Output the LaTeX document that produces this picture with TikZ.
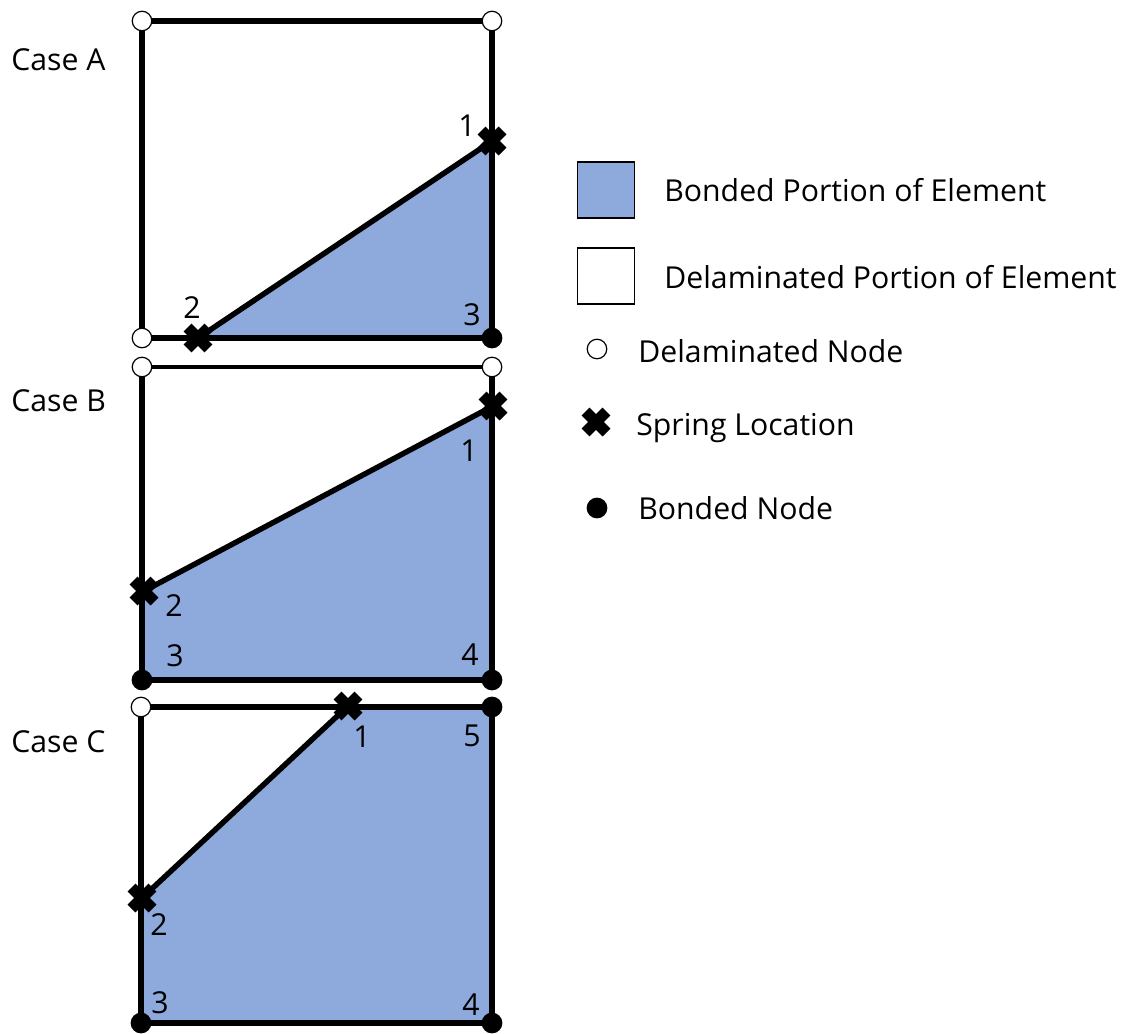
\documentclass[tikz,border=0pt]{standalone}
\usepackage{fontspec}
\setmainfont{Open Sans}
\usepackage{xcolor}
\usetikzlibrary{shapes.misc,backgrounds}
\definecolor{bondblue}{HTML}{8EA9DB}

\begin{document}
\begin{tikzpicture}[
        x=0.02cm, y=-0.02cm,
        delam/.style={circle, draw, fill=white, inner sep=0pt, outer sep=0pt, minimum size=0.39cm, line width=0.7pt},
        bonded/.style={circle, draw, fill=black, inner sep=0pt, outer sep=0pt, minimum size=0.39cm, line width=0.7pt},
        spring/.style={cross out, draw, inner sep=0pt, outer sep=0pt, minimum size=0.42cm, line width=6.4pt},
        swatch/.style={rectangle, draw, inner sep=0pt, minimum width=1.14cm, minimum height=1.12cm, line width=0.9pt},
        label/.style={font=\fontsize{17.2}{20}\selectfont, inner sep=0pt},
        legendtext/.style={label, anchor=west},
        line/.style={draw, line width=3.1pt},
        thinline/.style={draw, line width=2.4pt}
    ]
    \useasboundingbox (0,0) rectangle (1133,1034);

    % Case A
    \node [label, anchor=west] (casea) at (11,60) {Case A};
    \node [delam] (atl) at (142,21) {};
    \node [delam] (atr) at (492,21) {};
    \node [delam] (abl) at (142,338) {};
    \node [bonded] (abr) at (492,338) {};
    \node [spring] (aone) at (492,141) {};
    \node [spring] (atwo) at (198,338) {};
    \node [label] (alabone) at (467,126) {1};
    \node [label] (alabtwo) at (192,308) {2};
    \node [label] (alabthree) at (472,315) {3};

    % Case B
    \node [label, anchor=west] (caseb) at (11,401) {Case B};
    \node [delam] (btl) at (142,367) {};
    \node [delam] (btr) at (492,367) {};
    \node [bonded] (bbl) at (142,680) {};
    \node [bonded] (bbr) at (492,680) {};
    \node [spring] (bone) at (493,406) {};
    \node [spring] (btwo) at (144,591) {};
    \node [label] (blabone) at (469,451) {1};
    \node [label] (blabtwo) at (174,606) {2};
    \node [label] (blabthree) at (175,656) {3};
    \node [label] (blabfour) at (470,655) {4};

    % Case C
    \node [label, anchor=west] (casec) at (11,742) {Case C};
    \node [delam] (ctl) at (141,707) {};
    \node [bonded] (ctr) at (492,707) {};
    \node [bonded] (cbl) at (141,1023) {};
    \node [bonded] (cbr) at (492,1023) {};
    \node [spring] (cone) at (348,706) {};
    \node [spring] (ctwo) at (142,898) {};
    \node [label] (clabone) at (362,737) {1};
    \node [label] (clabtwo) at (159,925) {2};
    \node [label] (clabthree) at (160,1003) {3};
    \node [label] (clabfour) at (471,1005) {4};
    \node [label] (clabfive) at (472,736) {5};

    % Legend
    \node [swatch, fill=bondblue] (legbond) at (606,190) {};
    \node [swatch, fill=white] (legdelam) at (606,276) {};
    \node [delam] (legopen) at (597,349) {};
    \node [spring] (legspring) at (596,422) {};
    \node [bonded] (legdot) at (597,508) {};
    \node [legendtext] (txtbond) at (664,190) {Bonded Portion of Element};
    \node [legendtext] (txtdelam) at (664,277) {Delaminated Portion of Element};
    \node [legendtext] (txtopen) at (638,351) {Delaminated Node};
    \node [legendtext] (txtspring) at (636,428) {Spring Location};
    \node [legendtext] (txtdot) at (638,508) {Bonded Node};

    % Bonded regions and element edges
    \begin{scope}[on background layer]
        \fill [bondblue] (atwo.center) -- (aone.center) -- (abr.center) -- cycle;
        \fill [bondblue] (btwo.center) -- (bone.center) -- (bbr.center) -- (bbl.center) -- cycle;
        \fill [bondblue] (ctwo.center) -- (cone.center) -- (ctr.center) -- (cbr.center) -- (cbl.center) -- cycle;

        \path [line] (atl.center) -- (atr.center) -- (abr.center) -- (abl.center) -- (atl.center);
        \path [line] (atwo.center) -- (aone.center);

        \path [thinline] (btl.center) -- (btr.center);
        \path [line] (btr.center) -- (bbr.center) -- (bbl.center) -- (btl.center);
        \path [line] (btwo.center) -- (bone.center);

        \path [line] (ctl.center) -- (ctr.center) -- (cbr.center) -- (cbl.center) -- (ctl.center);
        \path [line] (ctwo.center) -- (cone.center);
    \end{scope}
\end{tikzpicture}
\end{document}
